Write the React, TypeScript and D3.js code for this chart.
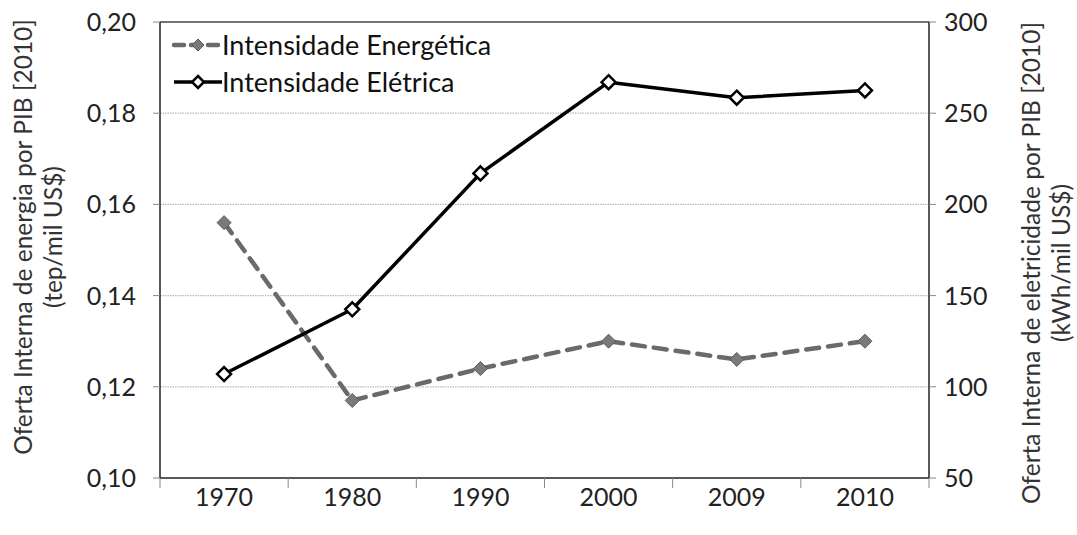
import * as d3 from 'd3';

const years = ['1970', '1980', '1990', '2000', '2009', '2010'];
const energetica = [0.156, 0.117, 0.124, 0.130, 0.126, 0.130];
const eletrica = [107, 142.5, 217, 267, 258.5, 262.5];
const leftTicks = [0.10, 0.12, 0.14, 0.16, 0.18, 0.20];
const rightTicks = [50, 100, 150, 200, 250, 300];

const W = 1077;
const H = 535;
const FONT = 'Lato, "Open Sans", sans-serif';

function diamond(cx: number, cy: number, r: number) {
  return `M${cx},${cy - r}L${cx + r},${cy}L${cx},${cy + r}L${cx - r},${cy}Z`;
}

export default function App() {
  const m = { top: 22, right: 148, bottom: 57, left: 160 };
  const x = d3.scaleBand<string>().domain(years).range([m.left, W - m.right]).padding(0);
  const yL = d3.scaleLinear().domain([0.10, 0.20]).range([H - m.bottom, m.top]);
  const yR = d3.scaleLinear().domain([50, 300]).range([H - m.bottom, m.top]);
  const cx = (i: number) => (x(years[i]) ?? 0) + x.bandwidth() / 2;

  const lineE = d3.line<number>().x((_, i) => cx(i)).y(d => yL(d));
  const lineEl = d3.line<number>().x((_, i) => cx(i)).y(d => yR(d));

  const x0 = m.left, x1 = W - m.right, y0 = m.top, y1 = H - m.bottom;
  const fmt = (v: number) => v.toFixed(2).replace('.', ',');
  const bounds = [...years.map(y => x(y) ?? 0), x1];

  return (
    <svg width={W} height={H} style={{ position: 'absolute', left: 0, top: 0, background: '#fff' }}
      fontFamily={FONT}>
      {/* gridlines */}
      {leftTicks.slice(1, -1).map(t => (
        <line key={t} x1={x0} x2={x1} y1={yL(t)} y2={yL(t)} stroke="#b8b8b8" strokeWidth={1.2}
          strokeDasharray="1.5,1" />
      ))}
      {/* plot border */}
      <line x1={x0} x2={x1} y1={y0} y2={y0} stroke="#444" strokeWidth={1.5} />
      <line x1={x0} x2={x0} y1={y0} y2={y1} stroke="#222" strokeWidth={1.5} />
      <line x1={x1} x2={x1} y1={y0} y2={y1} stroke="#222" strokeWidth={1.5} />
      <line x1={x0} x2={x1} y1={y1} y2={y1} stroke="#222" strokeWidth={1.5} />

      {/* left axis */}
      {leftTicks.map(t => (
        <g key={t}>
          <line x1={x0 - 7} x2={x0} y1={yL(t)} y2={yL(t)} stroke="#888" strokeWidth={1} />
          <text x={136} y={yL(t)} dy="0.36em" textAnchor="end" fontSize={25} fill="#222">{fmt(t)}</text>
        </g>
      ))}
      {/* right axis */}
      {rightTicks.map(t => (
        <g key={t}>
          <line x1={x1} x2={x1 + 7} y1={yR(t)} y2={yR(t)} stroke="#888" strokeWidth={1} />
          <text x={944} y={yR(t)} dy="0.36em" textAnchor="start" fontSize={25} fill="#222">{t}</text>
        </g>
      ))}
      {/* x axis */}
      {bounds.map((b, i) => (
        <line key={i} x1={b} x2={b} y1={y1} y2={y1 + 10} stroke="#888" strokeWidth={1} />
      ))}
      {years.map((yr, i) => (
        <text key={yr} x={cx(i)} y={506} textAnchor="middle" fontSize={25} fill="#222">{yr}</text>
      ))}

      {/* axis titles */}
      <text transform="translate(32,237) rotate(-90)" textAnchor="middle" fontSize={24.5} fill="#333">
        Oferta Interna de energia por PIB [2010]
      </text>
      <text transform="translate(62,237) rotate(-90)" textAnchor="middle" fontSize={24.5} fill="#333">
        (tep/mil US$)
      </text>
      <text transform="translate(1040,263) rotate(-90)" textAnchor="middle" fontSize={24.5} fill="#333">
        Oferta Interna de eletricidade por PIB [2010]
      </text>
      <text transform="translate(1070,263) rotate(-90)" textAnchor="middle" fontSize={24.5} fill="#333">
        (kWh/mil US$)
      </text>

      {/* series: Intensidade Energética */}
      <path d={lineE(energetica) ?? ''} fill="none" stroke="#6a6a6a" strokeWidth={4.5}
        strokeDasharray="13,9" strokeLinecap="round" />
      {energetica.map((v, i) => (
        <path key={i} d={diamond(cx(i), yL(v), 7)} fill="#7a7a7a" stroke="#5a5a5a" strokeWidth={1} />
      ))}

      {/* series: Intensidade Elétrica */}
      <path d={lineEl(eletrica) ?? ''} fill="none" stroke="#000" strokeWidth={3.5} strokeLinejoin="round" />
      {eletrica.map((v, i) => (
        <path key={i} d={diamond(cx(i), yR(v), 7)} fill="#fff" stroke="#000" strokeWidth={2.5} />
      ))}

      {/* legend */}
      <g>
        <line x1={174} x2={220} y1={45} y2={45} stroke="#6a6a6a" strokeWidth={4.5}
          strokeDasharray="10,7" strokeLinecap="round" />
        <path d={diamond(198, 45, 6)} fill="#7a7a7a" stroke="#5a5a5a" strokeWidth={1} />
        <text x={222} y={45} dy="0.36em" fontSize={27} fill="#111">Intensidade Energética</text>
        <line x1={174} x2={222} y1={82} y2={82} stroke="#000" strokeWidth={3.5} />
        <path d={diamond(198, 82, 6)} fill="#fff" stroke="#000" strokeWidth={2.5} />
        <text x={222} y={82} dy="0.36em" fontSize={27} fill="#111">Intensidade Elétrica</text>
      </g>
    </svg>
  );
}
